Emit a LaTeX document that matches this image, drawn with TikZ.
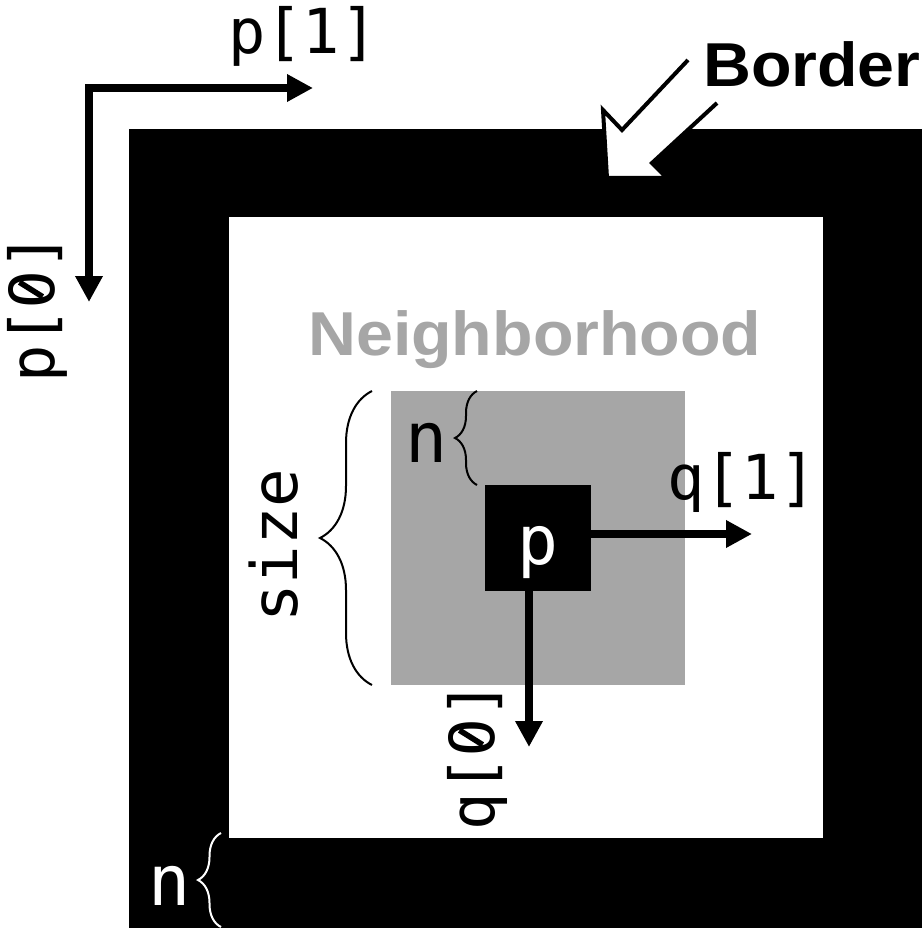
\documentclass[tikz,border=0pt]{standalone}
\usepackage{fontspec}
\setmainfont{Liberation Sans}
\newfontfamily\monofont{DejaVu Sans Mono}
\usetikzlibrary{arrows.meta,decorations.pathreplacing,positioning}

\definecolor{neighgray}{RGB}{166,166,166}
% slashed zero
\newcommand{\slzero}{\ooalign{O\cr\hidewidth\raisebox{0.16em}{\rotatebox{58}{\rule{0.44em}{0.09em}}}\hidewidth\cr}}

\begin{document}
\begin{tikzpicture}[x=1pt,y=-1pt,
   txt/.style={inner sep=0pt,anchor=base west},
   monofs/.style={txt,font=\monofont\fontsize{#1}{#1}\selectfont},
   sansbf/.style={txt,xscale=1.07,font=\bfseries\fontsize{62}{62}\selectfont},
   dirarrow/.style={-{Triangle[length=26pt,width=26pt]},line width=8pt,line cap=rect},
   size brace/.style={decorate,decoration={brace,amplitude=#1},line width=2pt}]
  \useasboundingbox (0,0) rectangle (922,928);
  % border, image and neighbourhood
  \fill[black] (129,129) rectangle (922,928);
  \fill[white] (229,217) rectangle (823,838);
  \fill[neighgray] (391,391) rectangle (685,685);
  \node[fill=black,minimum size=106pt,inner sep=0pt,text=white,
        font=\monofont\fontsize{68}{68}\selectfont,
        text height=52pt,text depth=0pt] (pbox) at (538,538) {p};

  % index directions
  \coordinate (corner) at (89,88);
  \coordinate (p1tip) at (313,88);
  \coordinate (p0tip) at (89,302);
  \coordinate (q1tip) at (752,534);
  \coordinate (q0tip) at (529,747);
  \draw[dirarrow] (corner) -- (p1tip);
  \draw[dirarrow] (corner) -- (p0tip);
  \draw[dirarrow] (pbox.east |- q1tip) -- (q1tip);
  \draw[dirarrow] (pbox.south -| q0tip) -- (q0tip);

  % braces
  \draw[size brace=52pt] (372,685) -- (372,391);
  \draw[size brace=22pt] (477,485) -- (477,391);
  \draw[size brace=23pt,white] (221,927) -- (221,833);

  % border pointer
  \draw[line width=4pt,fill=white,line join=miter]
    (688,60) -- (622,130) -- (603,110) -- (607,178) -- (667,178) -- (652,163) -- (717,103);

  % labels
  \node[monofs=62] (p1) at (228,54) {p[1]};
  \node[monofs=62,rotate=90] (p0) at (54,383) {p[\slzero]};
  \node[monofs=62] (q1) at (667,499) {q[1]};
  \node[monofs=62,rotate=90] (q0) at (494,831) {q[\slzero]};
  \node[monofs=64,rotate=90] (size) at (297,623) {size};
  \node[monofs=70] (nin) at (405,462) {n};
  \node[monofs=70,text=white] (nout) at (148,905) {n};
  \node[sansbf] (border) at (703,87) {Border};
  \node[sansbf,text=neighgray] (neigh) at (308,355) {Neighborhood};
\end{tikzpicture}
\end{document}
